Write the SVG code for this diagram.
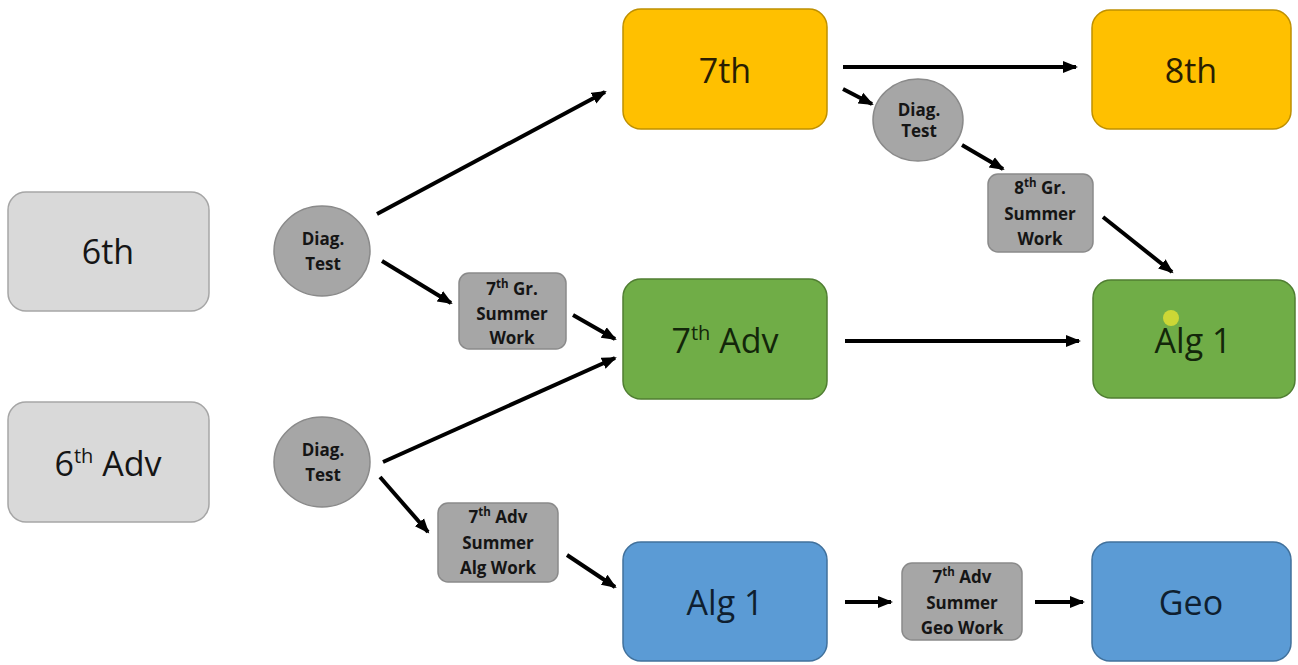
<svg xmlns="http://www.w3.org/2000/svg" width="1298" height="665" viewBox="0 0 1298 665">
<style>
.big{font-family:"Open Sans","Liberation Sans",sans-serif;font-size:34px;text-anchor:middle}
.sm{font-family:"Open Sans","Liberation Sans",sans-serif;font-weight:bold;font-size:17px;text-anchor:middle;fill:#151515}
.grey{fill:#d9d9d9;stroke:#a6a6a6;stroke-width:1.5}
.yel{fill:#ffc000;stroke:#bf9000;stroke-width:1.5}
.grn{fill:#70ad47;stroke:#507e32;stroke-width:1.5}
.blu{fill:#5b9bd5;stroke:#41719c;stroke-width:1.5}
.mid{fill:#a6a6a6;stroke:#8a8a8a;stroke-width:1.5}
.conn line{stroke:#000;stroke-width:4}
</style>
<defs>
<marker id="ah" markerUnits="userSpaceOnUse" markerWidth="16" markerHeight="14" refX="13" refY="7" orient="auto">
<path d="M0,1 L15,7 L0,13 z" fill="#000"/>
</marker>
</defs>
<rect width="1298" height="665" fill="#fff"/>

<g id="n6th"><rect class="grey" x="8" y="192" width="201" height="119" rx="18"/><text class="big" x="108" y="264" fill="#151515">6th</text></g>
<g id="n6adv"><rect class="grey" x="8" y="402" width="201" height="120" rx="18"/><text class="big" x="108" y="476" fill="#151515">6<tspan font-size="20" dy="-13">th</tspan><tspan dy="13"> Adv</tspan></text></g>

<g id="n7th"><rect class="yel" x="623" y="9" width="204" height="120" rx="18"/><text class="big" x="725" y="83" fill="#2a1e02">7th</text></g>
<g id="n8th"><rect class="yel" x="1092" y="10" width="199" height="119" rx="18"/><text class="big" x="1191" y="83" fill="#2a1e02">8th</text></g>
<g id="n7adv"><rect class="grn" x="623" y="279" width="204" height="120" rx="18"/><text class="big" x="725" y="353" fill="#13260a">7<tspan font-size="20" dy="-13">th</tspan><tspan dy="13"> Adv</tspan></text></g>
<g id="nalg1g"><rect class="grn" x="1093" y="280" width="202" height="118" rx="18"/><text class="big" x="1193" y="353" fill="#13260a">Alg 1</text><circle cx="1171" cy="318" r="8" fill="#d6dc34" opacity="0.9"/></g>
<g id="nalg1b"><rect class="blu" x="623" y="542" width="204" height="119" rx="18"/><text class="big" x="725" y="615" fill="#0f1f30">Alg 1</text></g>
<g id="ngeo"><rect class="blu" x="1092" y="542" width="199" height="119" rx="18"/><text class="big" x="1191" y="615" fill="#0f1f30">Geo</text></g>

<g id="diag1"><ellipse class="mid" cx="322" cy="251" rx="48" ry="45"/><text class="sm" x="323" y="245" font-size="17.5">Diag.</text><text class="sm" x="323" y="270" font-size="17.5">Test</text></g>
<g id="diag2"><ellipse class="mid" cx="322" cy="462" rx="48" ry="45"/><text class="sm" x="323" y="456" font-size="17.5">Diag.</text><text class="sm" x="323" y="481" font-size="17.5">Test</text></g>
<g id="diag3"><ellipse class="mid" cx="918" cy="120" rx="45" ry="41"/><text class="sm" x="919" y="116" font-size="14.5">Diag.</text><text class="sm" x="919" y="137" font-size="14.5">Test</text></g>

<g id="w7gr"><rect class="mid" x="459" y="273" width="107" height="76" rx="10"/><text class="sm" x="512" y="295" font-size="18">7<tspan font-size="11.5" dy="-7">th</tspan><tspan dy="7"> Gr.</tspan></text><text class="sm" x="512" y="320" font-size="18">Summer</text><text class="sm" x="512" y="344" font-size="18">Work</text></g>
<g id="w8gr"><rect class="mid" x="988" y="174" width="105" height="78" rx="10"/><text class="sm" x="1040" y="194" font-size="18">8<tspan font-size="11.5" dy="-7">th</tspan><tspan dy="7"> Gr.</tspan></text><text class="sm" x="1040" y="220" font-size="18">Summer</text><text class="sm" x="1040" y="245" font-size="18">Work</text></g>
<g id="w7alg"><rect class="mid" x="438" y="503" width="120" height="79" rx="10"/><text class="sm" x="498" y="523" font-size="18">7<tspan font-size="11.5" dy="-7">th</tspan><tspan dy="7"> Adv</tspan></text><text class="sm" x="498" y="549" font-size="18">Summer</text><text class="sm" x="498" y="574" font-size="18">Alg Work</text></g>
<g id="w7geo"><rect class="mid" x="902" y="563" width="120" height="77" rx="10"/><text class="sm" x="962" y="583" font-size="18">7<tspan font-size="11.5" dy="-7">th</tspan><tspan dy="7"> Adv</tspan></text><text class="sm" x="962" y="609" font-size="18">Summer</text><text class="sm" x="962" y="634" font-size="18">Geo Work</text></g>

<g id="connectors" class="conn">
<line x1="377" y1="214" x2="605" y2="92" marker-end="url(#ah)"/>
<line x1="382" y1="261" x2="451" y2="303" marker-end="url(#ah)"/>
<line x1="573" y1="315" x2="615" y2="339" marker-end="url(#ah)"/>
<line x1="383" y1="462" x2="615" y2="358" marker-end="url(#ah)"/>
<line x1="380" y1="477" x2="428" y2="532" marker-end="url(#ah)"/>
<line x1="567" y1="555" x2="615" y2="587" marker-end="url(#ah)"/>
<line x1="843" y1="67" x2="1076" y2="67" marker-end="url(#ah)"/>
<line x1="843" y1="89" x2="872" y2="104" marker-end="url(#ah)"/>
<line x1="962" y1="145" x2="1003" y2="169" marker-end="url(#ah)"/>
<line x1="1103" y1="217" x2="1172" y2="272" marker-end="url(#ah)"/>
<line x1="845" y1="341" x2="1079" y2="341" marker-end="url(#ah)"/>
<line x1="845" y1="602" x2="891" y2="602" marker-end="url(#ah)"/>
<line x1="1035" y1="602" x2="1083" y2="602" marker-end="url(#ah)"/>
</g>
</svg>
